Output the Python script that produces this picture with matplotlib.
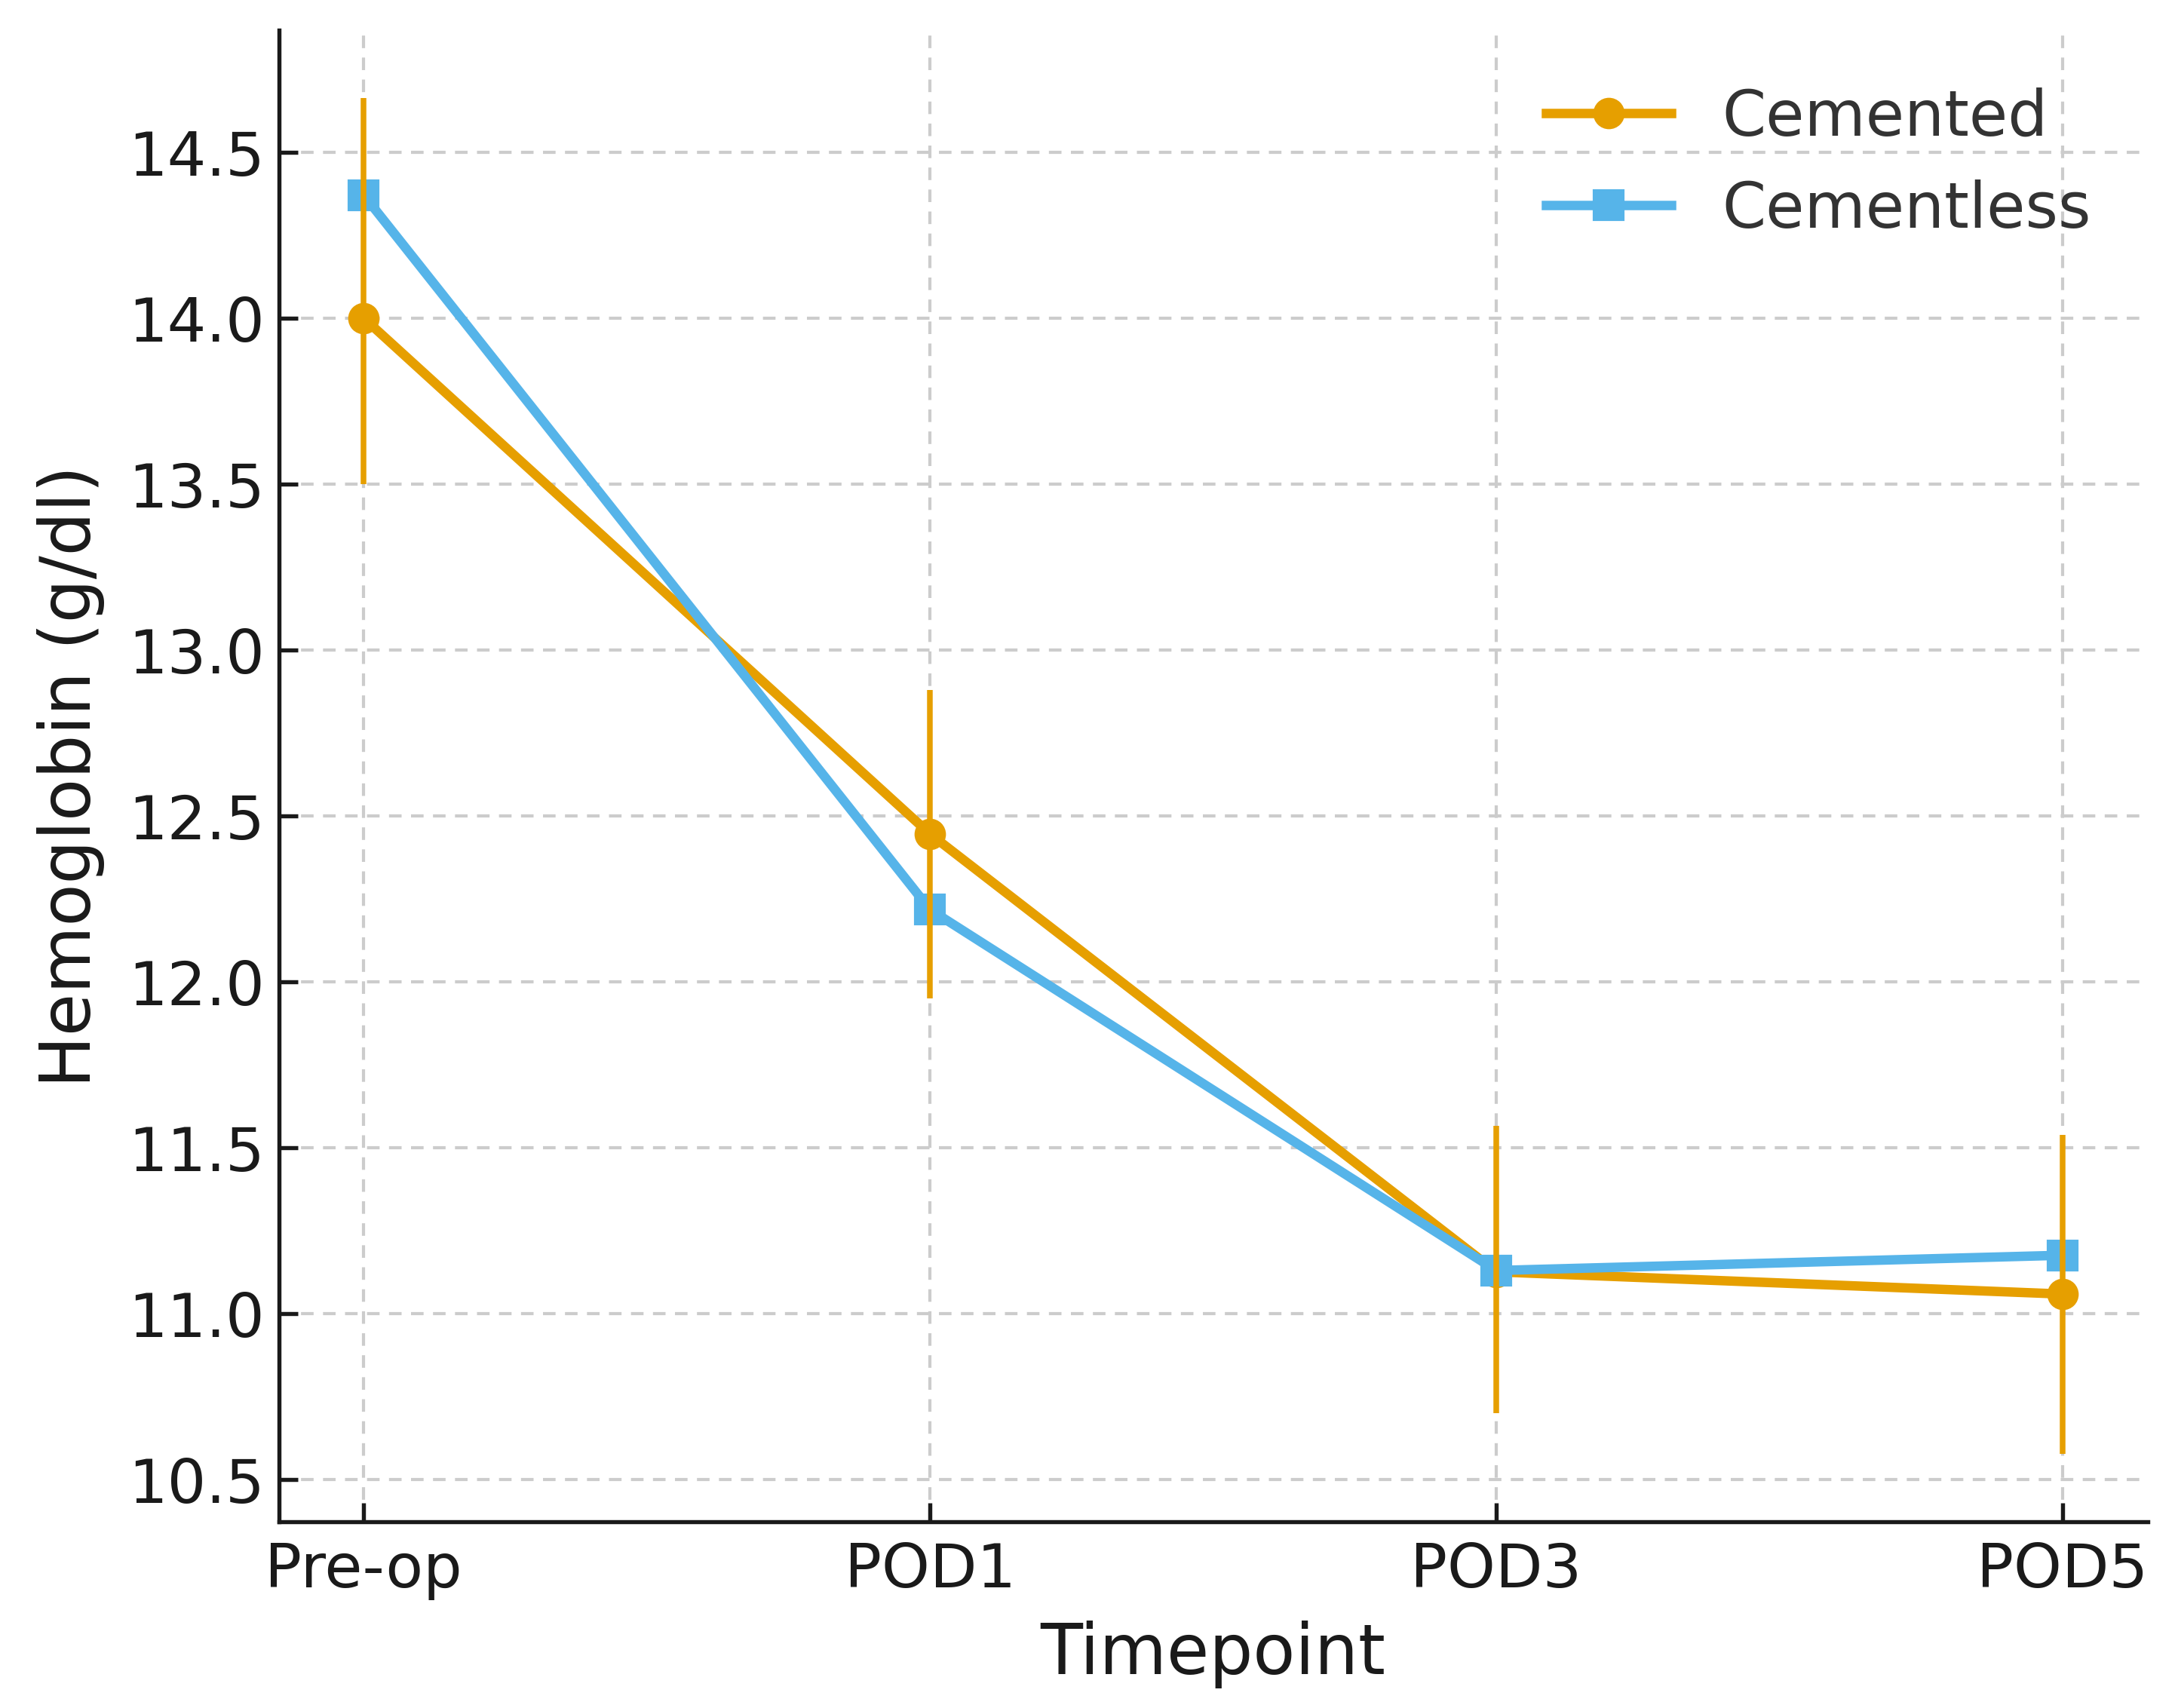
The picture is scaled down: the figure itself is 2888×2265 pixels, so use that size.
import matplotlib
matplotlib.use("Agg")
import matplotlib.pyplot as plt
import numpy as np

# timepoints and hemoglobin means (g/dl)
timepoints = ["Pre-op", "POD1", "POD3", "POD5"]
cemented = [14.00, 12.445, 11.125, 11.058]
cementless = [14.371, 12.217, 11.129, 11.175]

# error bar ends for the cemented group
cemented_low = [13.50, 11.949, 10.699, 10.576]
cemented_high = [14.664, 12.879, 11.565, 11.538]

orange = "#E69F00"
blue = "#56B4E9"

plt.rcParams['font.family'] = ['DejaVu Sans']

fig = plt.figure(figsize=(9.627, 7.553), dpi=300)
ax = fig.add_axes([0.128, 0.109, 0.858, 0.873])

x = np.arange(len(timepoints))
ax.plot(x, cemented, color=orange, marker='o', ms=9, lw=3, label="Cemented", zorder=3)
ax.plot(x, cementless, color=blue, marker='s', ms=9, lw=3, label="Cementless", zorder=3)

err = [np.array(cemented) - np.array(cemented_low),
       np.array(cemented_high) - np.array(cemented)]
ax.errorbar(x, cemented, yerr=err, fmt='none', ecolor=orange, elinewidth=1.8,
            capsize=0, zorder=4)

ax.set_xticks(x)
ax.set_xticklabels(timepoints)
ax.set_xlabel("Timepoint", fontsize=22, color="#1a1a1a")
ax.set_ylabel("Hemoglobin (g/dl)", fontsize=22, color="#1a1a1a")
ax.xaxis.set_label_coords(0.5, -0.066)
ax.yaxis.set_label_coords(-0.093, 0.5)
ax.set_yticks([10.5, 11.0, 11.5, 12.0, 12.5, 13.0, 13.5, 14.0, 14.5])
ax.tick_params(labelsize=19.5, width=1.3, length=6, direction='in', colors="#1a1a1a")
ax.tick_params(axis='x', pad=6)
ax.tick_params(axis='y', pad=4.5)

ax.grid(True, linestyle='--', color="#cccccc", linewidth=1.0, dashes=(4, 3))
ax.set_axisbelow(True)

for s in ['top', 'right']:
    ax.spines[s].set_visible(False)
for s in ['left', 'bottom']:
    ax.spines[s].set_linewidth(1.3)
    ax.spines[s].set_color("#1a1a1a")

leg = ax.legend(loc='upper right', frameon=False, fontsize=20)
for t in leg.get_texts():
    t.set_color("#333333")

fig.savefig("out.png", dpi=300)
